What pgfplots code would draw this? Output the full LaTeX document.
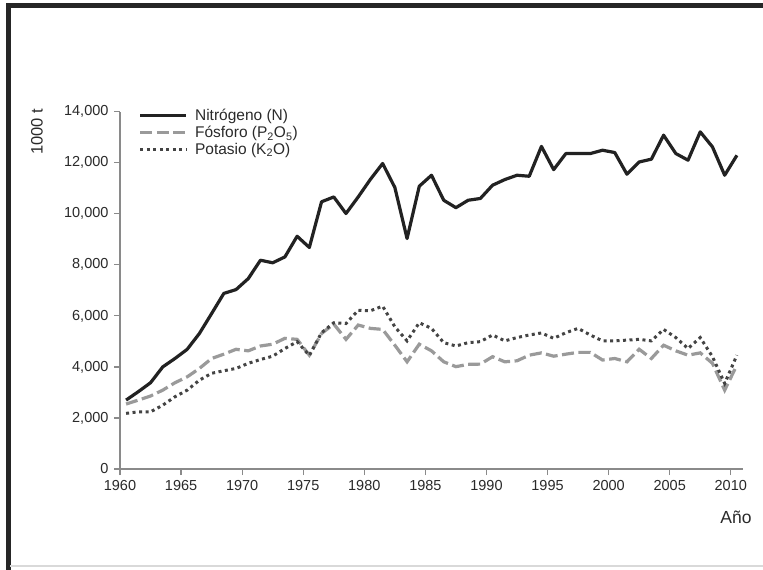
\documentclass[border=0pt]{standalone}
\usepackage{pgfplots}
\pgfplotsset{compat=1.18}
\usepackage{pgfplotstable}
\usepackage{fontspec}
\setmainfont{Liberation Sans}
\definecolor{cN}{HTML}{222222}
\definecolor{cP}{HTML}{9A9A9A}
\definecolor{cK}{HTML}{444444}
\definecolor{axgray}{HTML}{8A8A8A}
\definecolor{txt}{HTML}{2A2A2A}
\pgfplotstableread{
year N P K
1960.5 2700 2545 2180
1961.5 3030 2700 2240
1962.5 3380 2860 2240
1963.5 4000 3090 2500
1964.5 4330 3380 2830
1965.5 4690 3610 3090
1966.5 5310 3940 3480
1967.5 6090 4330 3750
1968.5 6880 4500 3850
1969.5 7030 4690 3940
1970.5 7460 4630 4140
1971.5 8180 4820 4290
1972.5 8080 4890 4420
1973.5 8310 5120 4720
1974.5 9120 5080 4990
1975.5 8680 4460 4450
1976.5 10470 5310 5340
1977.5 10660 5680 5730
1978.5 10010 5080 5700
1979.5 10660 5640 6220
1980.5 11350 5510 6200
1981.5 11970 5470 6380
1982.5 11030 4850 5570
1983.5 9030 4200 5020
1984.5 11080 4890 5730
1985.5 11510 4630 5510
1986.5 10530 4200 4950
1987.5 10240 4010 4820
1988.5 10530 4100 4950
1989.5 10600 4110 4990
1990.5 11120 4400 5250
1991.5 11340 4200 5020
1992.5 11510 4240 5150
1993.5 11470 4460 5250
1994.5 12640 4550 5330
1995.5 11730 4420 5120
1996.5 12360 4500 5340
1997.5 12360 4570 5510
1998.5 12360 4570 5250
1999.5 12490 4270 5020
2000.5 12400 4330 5020
2001.5 11550 4200 5050
2002.5 12030 4690 5080
2003.5 12140 4330 5020
2004.5 13080 4850 5470
2005.5 12360 4630 5150
2006.5 12100 4460 4720
2007.5 13210 4550 5150
2008.5 12620 4140 4400
2009.5 11510 3090 3350
2010.5 12290 4070 4460
}\datatable
\begin{document}
\begin{tikzpicture}
\path[use as bounding box] (0,0) rectangle (763pt,570pt);
\fill[white] (0,0) rectangle (763pt,570pt);
\draw[black!85, line width=5pt] (8pt,0pt) -- (8pt,564pt) -- (763pt,564pt);
\draw[black!15, line width=1.5pt] (10pt,4pt) -- (763pt,4pt);
\begin{axis}[
  at={(120pt,101pt)}, anchor=south west,
  scale only axis, width=623pt, height=357.3pt,
  xmin=1960, xmax=2011, ymin=0, ymax=14000,
  axis x line*=bottom, axis y line*=left,
  axis line style={axgray, line width=1.2pt},
  tick style={axgray, line width=1.2pt},
  tick align=outside, major tick length=6pt,
  xtick={1960,1965,...,2010},
  ytick={0,2000,...,14000},
  scaled y ticks=false,
  /pgf/number format/assume math mode=true,
  x tick label style={/pgf/number format/1000 sep={}, font=\fontsize{14.5}{16}\selectfont, text=txt, yshift=-2pt},
  y tick label style={/pgf/number format/1000 sep={,}, font=\fontsize{14.5}{16}\selectfont, text=txt, xshift=-2pt},
  ylabel={1000 t},
  ylabel style={at={(axis description cs:-0.1332,0.944)}, anchor=center, font=\fontsize{16.5}{18}\selectfont, text=txt},
  xlabel={Año},
  xlabel style={at={(axis description cs:0.9888,-0.1343)}, anchor=center, font=\fontsize{17.5}{19}\selectfont, text=txt},
  legend style={at={(axis description cs:0.03,1.013)}, anchor=north west, draw=none, fill=none,
    font=\fontsize{15.5}{17}\selectfont, text=txt, row sep=0pt, inner sep=0pt,
    /tikz/every odd column/.append style={column sep=5pt}},
  legend cell align=left,
  legend image code/.code={\draw[#1] (0pt,0pt) -- (46pt,0pt);},
  clip=false,
]
\addplot[cN, line width=3.2pt, line join=round] table[x=year, y=N] {\datatable};
\addlegendentry{Nitrógeno (N)}
\addplot[cP, line width=3.2pt, dash pattern=on 12pt off 4.5pt] table[x=year, y=P] {\datatable};
\addlegendentry{Fósforo (P\textsubscript{2}O\textsubscript{5})}
\addplot[cK, line width=3pt, dash pattern=on 3pt off 3.5pt] table[x=year, y=K] {\datatable};
\addlegendentry{Potasio (K\textsubscript{2}O)}
\end{axis}
\end{tikzpicture}
\end{document}
